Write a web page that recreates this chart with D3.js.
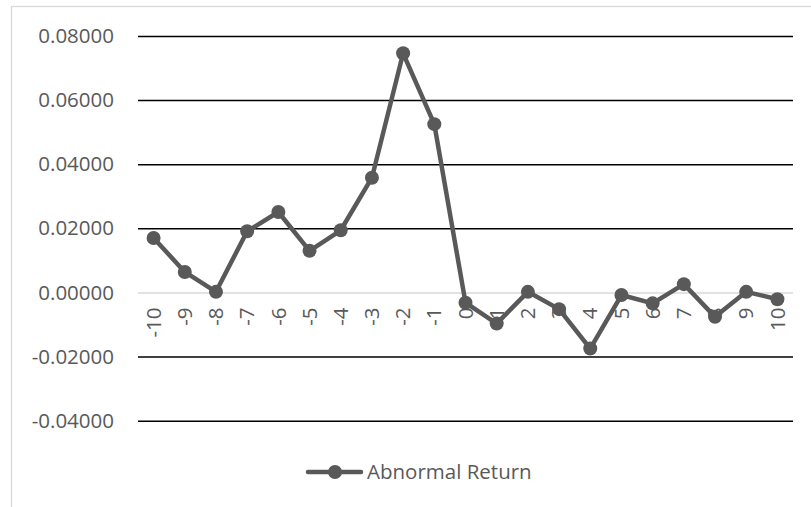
<!DOCTYPE html>
<html>
<head>
<meta charset="utf-8">
<script src="https://cdn.jsdelivr.net/npm/d3@7/dist/d3.min.js"></script>
<style>
  html, body { margin: 0; padding: 0; background: #ffffff; }
  svg { display: block; }
  text { font-family: "Open Sans", sans-serif; fill: #595959; }
</style>
</head>
<body>
<svg id="chart" width="811" height="507"></svg>
<script>
const categories = ["-10","-9","-8","-7","-6","-5","-4","-3","-2","-1","0","1","2","3","4","5","6","7","8","9","10"];
const abnormalReturn = [0.0170, 0.0064, 0.0002, 0.0191, 0.0251, 0.0130, 0.0194, 0.0358, 0.0746, 0.0525,
                        -0.0032, -0.0097, 0.0002, -0.0052, -0.0175, -0.0008, -0.0034, 0.0026, -0.0076, 0.0002, -0.0021];
const yTicks = [-0.04, -0.02, 0, 0.02, 0.04, 0.06, 0.08];
const seriesName = "Abnormal Return";

const svg = d3.select("#chart");
const plot = { left: 138, right: 793, top: 36, bottom: 420.7 };
const fontSize = 20.5;
const grey = "#595959";

// outer chart border
svg.append("rect")
  .attr("x", 11.5).attr("y", 6.5)
  .attr("width", 900).attr("height", 600)
  .attr("fill", "none").attr("stroke", "#d9d9d9").attr("stroke-width", 1.3);

const x = d3.scaleBand().domain(categories).range([plot.left, plot.right]).paddingInner(0).paddingOuter(0);
const y = d3.scaleLinear().domain([-0.04, 0.08]).range([plot.bottom, plot.top]);
const cx = d => x(d) + x.bandwidth() / 2;

const fmt = d3.format(".5f");
// gridlines + y labels via axis
const yAxis = d3.axisLeft(y).tickValues(yTicks)
  .tickFormat(d => fmt(d).replace("\u2212", "-"))
  .tickSize(-(plot.right - plot.left)).tickPadding(24);
const gy = svg.append("g").attr("transform", `translate(${plot.left},0)`).call(yAxis);
gy.select(".domain").remove();
gy.selectAll(".tick line")
  .attr("stroke", d => d === 0 ? "#d9d9d9" : "#000000")
  .attr("stroke-width", 1.5);
gy.selectAll(".tick text")
  .attr("font-size", fontSize).attr("fill", grey)
  .style("font-family", "'Open Sans', sans-serif");

// x labels at zero line, rotated
const xAxis = d3.axisBottom(x).tickSize(0).tickPadding(0);
const gx = svg.append("g").attr("transform", `translate(0,${y(0)})`).call(xAxis);
gx.select(".domain").remove();
gx.selectAll(".tick text")
  .attr("font-size", fontSize).attr("fill", grey)
  .style("font-family", "'Open Sans', sans-serif")
  .attr("text-anchor", "end")
  .attr("transform", "rotate(-90)")
  .attr("x", -15).attr("y", 0).attr("dy", "0.35em");

// series line
const line = d3.line().x((d, i) => cx(categories[i])).y(d => y(d));
svg.append("path").datum(abnormalReturn)
  .attr("d", line).attr("fill", "none")
  .attr("stroke", grey).attr("stroke-width", 4.5)
  .attr("stroke-linejoin", "round").attr("stroke-linecap", "round");

svg.append("g").selectAll("circle").data(abnormalReturn).join("circle")
  .attr("cx", (d, i) => cx(categories[i])).attr("cy", d => y(d))
  .attr("r", 7).attr("fill", grey);

// legend
const lg = svg.append("g").attr("transform", "translate(0,472)");
lg.append("line").attr("x1", 308).attr("x2", 361).attr("y1", 0).attr("y2", 0)
  .attr("stroke", grey).attr("stroke-width", 4.5).attr("stroke-linecap", "round");
lg.append("circle").attr("cx", 335).attr("cy", 0).attr("r", 7).attr("fill", grey);
lg.append("text").attr("x", 367).attr("y", 0).attr("dy", "0.35em")
  .attr("font-size", fontSize).text(seriesName);
</script>
</body>
</html>
